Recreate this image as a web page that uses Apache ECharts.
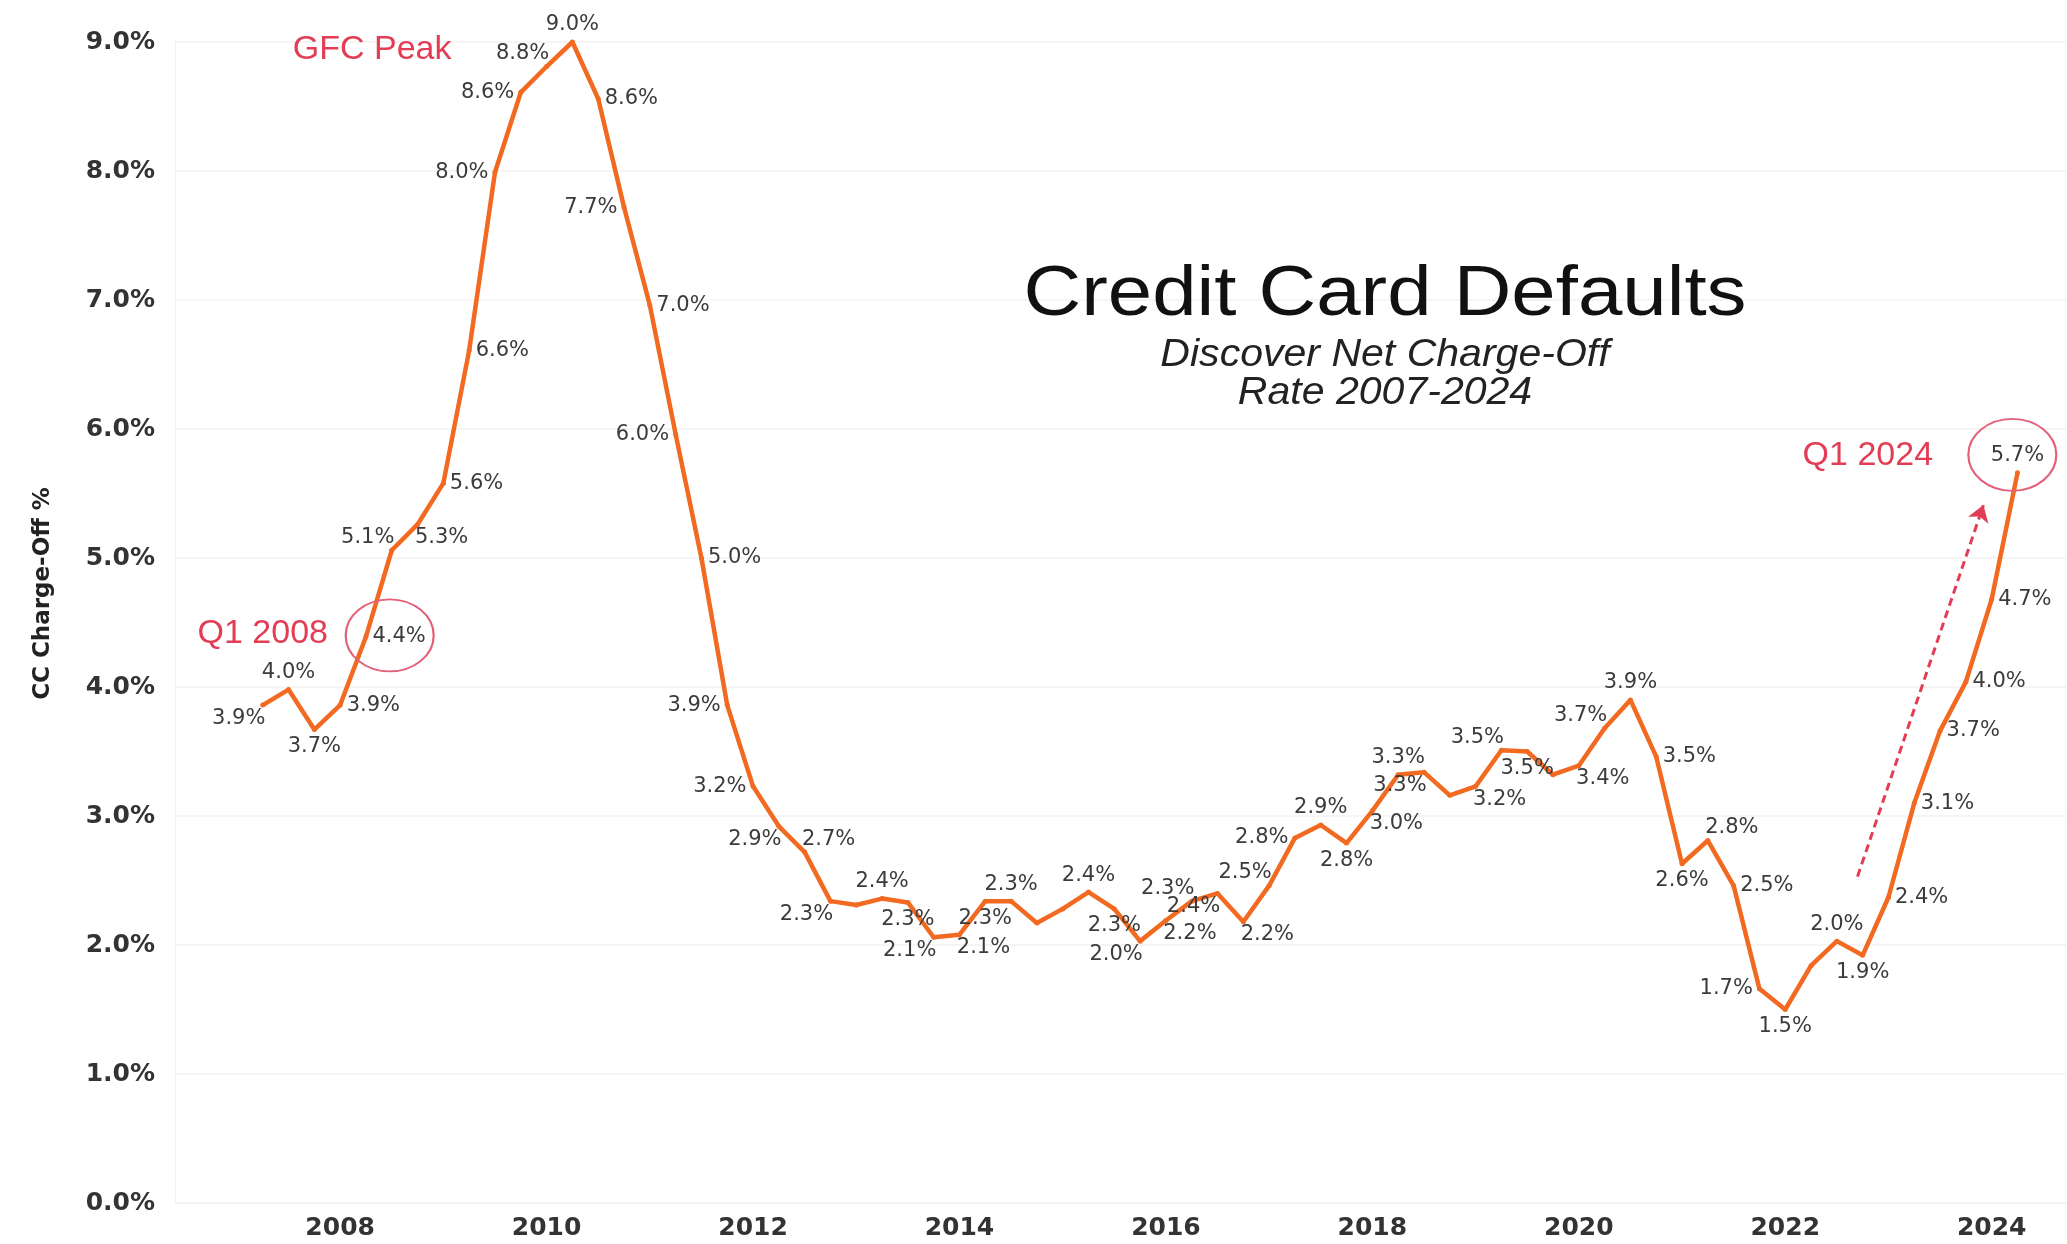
<!DOCTYPE html>
<html>
<head>
<meta charset="utf-8">
<title>Credit Card Defaults</title>
<script src="https://cdn.jsdelivr.net/npm/echarts@6/dist/echarts.min.js"></script>
<style>
  html, body { margin: 0; padding: 0; background: #fff; }
  #main { width: 2067px; height: 1244px; }
</style>
</head>
<body>
<div id="main"></div>
<script>
// quarterly Discover net charge-off rate, Q1 2007 .. Q1 2024
var quarters = [
    'Q1 2007','Q2 2007','Q3 2007','Q4 2007',
    'Q1 2008','Q2 2008','Q3 2008','Q4 2008',
    'Q1 2009','Q2 2009','Q3 2009','Q4 2009',
    'Q1 2010','Q2 2010','Q3 2010','Q4 2010',
    'Q1 2011','Q2 2011','Q3 2011','Q4 2011',
    'Q1 2012','Q2 2012','Q3 2012','Q4 2012',
    'Q1 2013','Q2 2013','Q3 2013','Q4 2013',
    'Q1 2014','Q2 2014','Q3 2014','Q4 2014',
    'Q1 2015','Q2 2015','Q3 2015','Q4 2015',
    'Q1 2016','Q2 2016','Q3 2016','Q4 2016',
    'Q1 2017','Q2 2017','Q3 2017','Q4 2017',
    'Q1 2018','Q2 2018','Q3 2018','Q4 2018',
    'Q1 2019','Q2 2019','Q3 2019','Q4 2019',
    'Q1 2020','Q2 2020','Q3 2020','Q4 2020',
    'Q1 2021','Q2 2021','Q3 2021','Q4 2021',
    'Q1 2022','Q2 2022','Q3 2022','Q4 2022',
    'Q1 2023','Q2 2023','Q3 2023','Q4 2023',
    'Q1 2024'
];
var rates = [
    3.86, 3.98, 3.67, 3.86,
    4.39, 5.06, 5.26, 5.58,
    6.61, 7.99, 8.61, 8.81,
    9.00, 8.56, 7.72, 6.96,
    5.96, 5.00, 3.86, 3.23,
    2.92, 2.72, 2.34, 2.31,
    2.36, 2.33, 2.06, 2.08,
    2.34, 2.34, 2.17, 2.28,
    2.41, 2.28, 2.03, 2.19,
    2.34, 2.40, 2.18, 2.46,
    2.83, 2.93, 2.79, 3.04,
    3.32, 3.34, 3.16, 3.23,
    3.51, 3.50, 3.32, 3.39,
    3.68, 3.90, 3.46, 2.63,
    2.81, 2.46, 1.66, 1.50,
    1.84, 2.03, 1.92, 2.37,
    3.10, 3.66, 4.04, 4.68,
    5.66
];
var yearTicks = [2008, 2010, 2012, 2014, 2016, 2018, 2020, 2022, 2024];
var rateTicks = [0, 1, 2, 3, 4, 5, 6, 7, 8, 9];

// where each point's label sits ('' = no label)
var labelSide = [
    'bl','t','b','r', 'r','tl','br','r', 'r','l','l','tl', 't','r','l','r',
    'l','r','l','l', 'bl','tr','bl','', 't','b','bl','br', 'b','t','','',
    't','b','bl','br', 'tl','bl','br','tl', 'l','t','b','br', 't','bl','','br',
    'tl','b','','br', 'tl','t','r','b', 'tr','r','l','b', '','t','b','r',
    'r','r','r','r', 't'
];

var ORANGE = '#f26a21';
var RED = '#e23d55';
var LABEL_FONT = 'DejaVu Sans';

// quarter-end position on a year scale, e.g. 'Q1 2008' -> 2008.25
function quarterPos(q) {
    var parts = q.split(' ');
    return parseInt(parts[1], 10) + parseInt(parts[0].substring(1), 10) / 4;
}

function labelFor(side) {
    if (!side) return {show: false};
    var l = {show: true};
    switch (side) {
        case 't': l.position = 'top'; break;
        case 'b': l.position = 'bottom'; break;
        case 'l': l.position = 'left'; break;
        case 'r': l.position = 'right'; break;
        case 'tl': l.position = 'top'; l.offset = [-24, 4]; break;
        case 'tr': l.position = 'top'; l.offset = [24, 4]; break;
        case 'bl': l.position = 'bottom'; l.offset = [-24, -4]; break;
        case 'br': l.position = 'bottom'; l.offset = [24, -4]; break;
    }
    return l;
}

var points = [];
for (var i = 0; i < quarters.length; i++) {
    points.push({
        name: quarters[i],
        value: [quarterPos(quarters[i]), rates[i]],
        label: labelFor(labelSide[i])
    });
}

function noteText(txt, coord) {
    return {
        coord: coord, symbol: 'rect', symbolSize: 1,
        itemStyle: {color: 'rgba(0,0,0,0)'},
        label: {show: true, position: 'inside', formatter: txt, color: RED,
                fontFamily: 'Liberation Sans', fontSize: 34}
    };
}
function noteRing(coord) {
    return {
        coord: coord, symbol: 'circle', symbolSize: [88, 72],
        itemStyle: {color: 'rgba(0,0,0,0)', borderColor: '#e4607a', borderWidth: 2},
        label: {show: false}
    };
}

var myChart = echarts.init(document.getElementById('main'));
var option = {
    backgroundColor: '#fff',
    animation: false,
    grid: {left: 175, right: 1, top: 42, bottom: 41},
    xAxis: {
        type: 'value',
        min: 2006.4,
        max: 2024.72,
        axisLine: {show: true, lineStyle: {color: '#f2f2f2'}},
        axisTick: {show: false},
        splitLine: {show: false},
        axisLabel: {
            customValues: yearTicks,
            formatter: function (v) { return String(Math.round(v)); },
            color: '#333', fontWeight: 'bold', fontFamily: LABEL_FONT,
            fontSize: 25, margin: 13
        }
    },
    yAxis: {
        type: 'value',
        min: rateTicks[0],
        max: rateTicks[rateTicks.length - 1],
        interval: 1,
        name: 'CC Charge-Off %',
        nameLocation: 'middle',
        nameRotate: 90,
        nameGap: 120,
        nameTextStyle: {color: '#222', fontWeight: 'bold', fontFamily: LABEL_FONT, fontSize: 23,
                        padding: [0, 0, 0, 58]},
        axisLine: {show: true, lineStyle: {color: '#f0f0f0'}},
        axisTick: {show: false},
        splitLine: {lineStyle: {color: '#f5f5f5', width: 2}},
        axisLabel: {
            formatter: function (v) { return v.toFixed(1) + '%'; },
            color: '#333', fontWeight: 'bold', fontFamily: LABEL_FONT,
            fontSize: 25, margin: 20
        }
    },
    series: [{
        type: 'line',
        data: points,
        symbol: 'circle',
        symbolSize: 5,
        lineStyle: {color: ORANGE, width: 4.5},
        itemStyle: {color: ORANGE},
        label: {
            formatter: function (p) { return p.value[1].toFixed(1) + '%'; },
            color: '#3b3b3b', fontFamily: LABEL_FONT, fontSize: 21, distance: 4
        },
        markPoint: {
            silent: true,
            data: [
                noteText('GFC Peak', [2008.31, 8.94]),
                noteText('Q1 2008', [2007.25, 4.41]),
                noteText('Q1 2024', [2022.80, 5.79]),
                noteRing([2008.48, 4.40]),
                noteRing([2024.20, 5.80])
            ]
        },
        markLine: {
            silent: true,
            symbol: ['none', 'arrow'],
            symbolSize: 16,
            lineStyle: {color: RED, type: [8, 5], width: 3},
            label: {show: false},
            data: [[{coord: [2022.70, 2.53]}, {coord: [2023.92, 5.41]}]]
        }
    }],
    graphic: [
        {type: 'text', x: 1385, y: 296, z: 100, scaleX: 1.14,
         style: {text: 'Credit Card Defaults', fill: '#111', font: '70px "Liberation Sans"',
                 align: 'center', verticalAlign: 'middle'}},
        {type: 'text', x: 1385, y: 355, z: 100, scaleX: 1.08,
         style: {text: 'Discover Net Charge-Off', fill: '#222', font: 'italic 38px "Liberation Sans"',
                 align: 'center', verticalAlign: 'middle'}},
        {type: 'text', x: 1385, y: 393, z: 100, scaleX: 1.08,
         style: {text: 'Rate 2007-2024', fill: '#222', font: 'italic 38px "Liberation Sans"',
                 align: 'center', verticalAlign: 'middle'}}
    ]
};
myChart.setOption(option);
window.onresize = myChart.resize;
</script>
</body>
</html>
